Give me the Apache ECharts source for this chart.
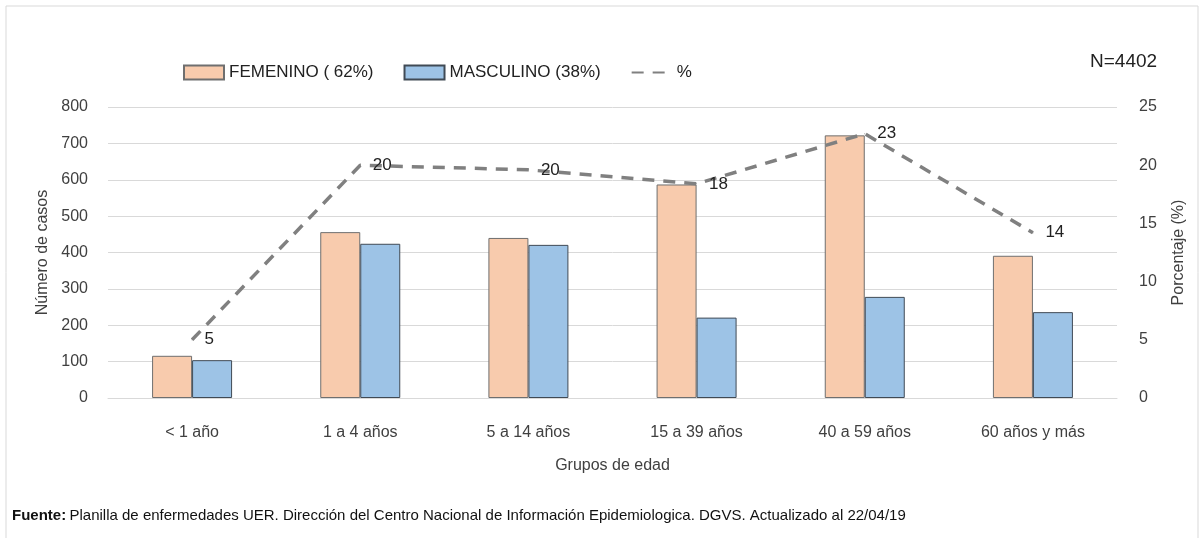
<!DOCTYPE html>
<html><head><meta charset="utf-8">
<script src="https://cdn.jsdelivr.net/npm/echarts@6/dist/echarts.min.js"></script>
<style>html,body{margin:0;padding:0;background:#fff}#c{width:1202px;height:538px}</style>
</head><body><div id="c"></div>
<script>
var categories = ['< 1 año', '1 a 4 años', '5 a 14 años', '15 a 39 años', '40 a 59 años', '60 años y más'];
var femenino = [116, 456, 440, 587, 722, 391];
var masculino = [104, 424, 421, 221, 278, 236];
var porcentaje = [5.0, 20.0, 19.6, 18.4, 22.7, 14.2];
var leftTicks = [0, 100, 200, 300, 400, 500, 600, 700, 800];
var rightTicks = [0, 5, 10, 15, 20, 25];

var F = 'Liberation Sans, Arial, sans-serif';
var chart = echarts.init(document.getElementById('c'));
chart.setOption({
  animation: false,
  textStyle: {fontFamily: F, color: '#404040'},
  grid: {left: 108, right: 85, top: 107, bottom: 140},
  legend: {
    left: 178, top: 59, itemWidth: 40, itemHeight: 14, itemGap: 30,
    textStyle: {fontSize: 17, color: '#222', fontFamily: F},
    data: [
      {name: 'FEMENINO ( 62%)', icon: 'rect'},
      {name: 'MASCULINO (38%)', icon: 'rect'},
      {name: '%', itemStyle: {opacity: 0}}
    ]
  },
  graphic: [
    {type: 'rect', shape: {x: 6, y: 6, width: 1192, height: 540}, style: {fill: 'none', stroke: '#d9d9d9', lineWidth: 1}},
    {type: 'text', left: 1090, top: 52, style: {text: 'N=4402', fontSize: 19, fill: '#222', fontFamily: F}},
    {type: 'text', left: 12, top: 508, style: {
      rich: {b: {fontWeight: 'bold', fontSize: 15, fill: '#111', fontFamily: F},
             n: {fontSize: 15, fill: '#111', fontFamily: F}},
      text: '{b|Fuente:} {n|Planilla de enfermedades UER. Dirección del Centro Nacional de Información Epidemiologica. DGVS. Actualizado al 22/04/19}'
    }}
  ],
  xAxis: {
    type: 'category', data: categories,
    name: 'Grupos de edad', nameLocation: 'middle', nameGap: 60,
    nameTextStyle: {fontSize: 16, color: '#404040'},
    axisLine: {lineStyle: {color: '#d9d9d9'}},
    axisTick: {show: false},
    axisLabel: {fontSize: 16, color: '#404040', margin: 27}
  },
  yAxis: [
    {type: 'value', min: 0, max: 800, interval: 100,
     name: 'Número de casos', nameLocation: 'middle', nameGap: 56, nameRotate: 90,
     nameTextStyle: {fontSize: 16, color: '#404040'},
     axisLabel: {fontSize: 16, color: '#404040', margin: 20},
     splitLine: {lineStyle: {color: '#d9d9d9'}}},
    {type: 'value', min: 0, max: 25, interval: 5,
     name: 'Porcentaje (%)', nameLocation: 'middle', nameGap: 54, nameRotate: 90,
     nameTextStyle: {fontSize: 16, color: '#404040'},
     axisLabel: {fontSize: 16, color: '#404040', margin: 22},
     splitLine: {show: false}}
  ],
  series: [
    {name: 'FEMENINO ( 62%)', type: 'bar', data: femenino, barWidth: 40, barGap: '0%',
     itemStyle: {color: '#F8CBAD', borderColor: '#6f6f6f', borderWidth: 1}},
    {name: 'MASCULINO (38%)', type: 'bar', data: masculino, barWidth: 40, barGap: '0%',
     itemStyle: {color: '#9DC3E6', borderColor: '#404a55', borderWidth: 1}},
    {name: '%', type: 'line', yAxisIndex: 1, data: porcentaje, symbol: 'circle', symbolSize: 1,
     showSymbol: true,
     lineStyle: {color: '#808080', width: 3.5, type: [12, 9]},
     itemStyle: {color: '#808080'},
     label: {show: true, position: 'right', distance: 12, fontSize: 17, color: '#222',
             formatter: function(p){return Math.round(p.value);}}}
  ]
});
</script></body></html>
